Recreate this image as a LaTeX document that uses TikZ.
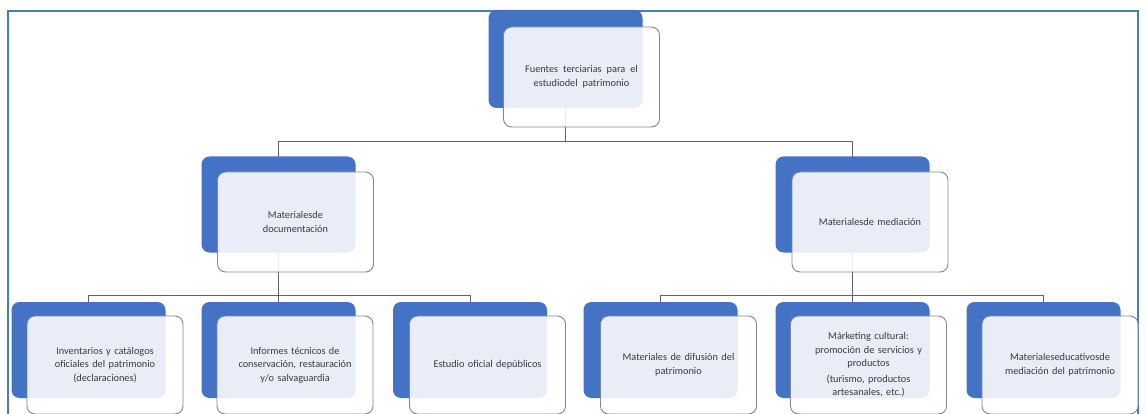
\documentclass[tikz,border=0pt]{standalone}
\usepackage{fontspec}
\setmainfont{Carlito}
\usetikzlibrary{backgrounds}
\definecolor{boxblue}{HTML}{4472C4}
\definecolor{edgegray}{HTML}{80858F}
\definecolor{txtgray}{HTML}{3A3A3A}
\definecolor{linegray}{HTML}{5F6368}
\definecolor{framecol}{HTML}{4A7FA8}
\tikzset{
  back/.style={draw=none, fill=boxblue, rounded corners=8pt, minimum width=154pt, minimum height=96pt, inner sep=0pt},
  front/.style={draw=edgegray, line width=0.9pt, fill=white, fill opacity=0.88, text opacity=1, rounded corners=8pt,
    minimum width=156pt, minimum height=98pt, inner sep=2pt, align=center, text=txtgray,
    font=\fontsize{10.3pt}{13.5pt}\selectfont, text width=148pt},
  link/.style={draw=linegray, line width=1pt},
  frameline/.style={draw=framecol, line width=1.4pt}
}
\begin{document}
\begin{tikzpicture}[x=1pt,y=-1pt]
\useasboundingbox (0,0) rectangle (1147,414);
% top
\node[back, minimum height=98pt] (b0) at (565.5,59) {};
\node[front, minimum height=100pt] (f0) at (581.5,77) {\spaceskip=5pt Fuentes terciarias para el\\ estudiodel patrimonio};
% middle
\node[back] (bL) at (278.5,204.5) {};
\node[front, minimum height=100pt] (fL) at (295.5,222) {Materialesde\\ documentación};
\node[back] (bR) at (852.5,204.5) {};
\node[front, minimum height=100pt] (fR) at (870,222) {Materialesde mediación};
% bottom
\node[back] (b1) at (88.5,350) {};
\node[front] (f1) at (105,365) {Inventarios y catálogos\\ oficiales del patrimonio\\ (declaraciones)};
\node[back] (b2) at (278.5,350) {};
\node[front] (f2) at (295,365) {Informes técnicos de\\ conservación, restauración\\ y/o salvaguardia};
\node[back] (b3) at (470,350) {};
\node[front] (f3) at (487.5,365) {Estudio oficial depúblicos};
\node[back] (b4) at (660.5,350) {};
\node[front] (f4) at (678.5,365) {Materiales de difusión del\\ patrimonio};
\node[back] (b5) at (852.5,350) {};
\node[front] (f5) at (868.5,365) {Márketing cultural:\\ promoción de servicios y\\ productos\\[2pt] (turismo, productos\\ artesanales, etc.)};
\node[back] (b6) at (1043.5,350) {};
\node[front] (f6) at (1060,365) {Materialeseducativosde\\ mediación del patrimonio};
\coordinate (bar0) at (0,142);
\coordinate (bar1) at (0,295);
\coordinate (fa) at (8,414);
\coordinate (fb) at (8,11);
\coordinate (fc) at (1138,11);
\coordinate (fd) at (1138,414);
\begin{scope}[on background layer]
\draw[frameline] (fa) -- (fb) -- (fc) -- (fd);
\draw[link] (b0.center) -- (b0.center |- bar0);
\draw[link] (bL.center) |- (bar0 -| bR.center) -- (bR.center);
\draw[link] (bL.center) -- (bL.center |- bar1);
\draw[link] (b1.center) |- (bar1 -| b3.center) -- (b3.center);
\draw[link] (b2.center) -- (b2.center |- bar1);
\draw[link] (bR.center) -- (bR.center |- bar1);
\draw[link] (b4.center) |- (bar1 -| b6.center) -- (b6.center);
\draw[link] (b5.center) -- (b5.center |- bar1);
\end{scope}
\end{tikzpicture}
\end{document}
